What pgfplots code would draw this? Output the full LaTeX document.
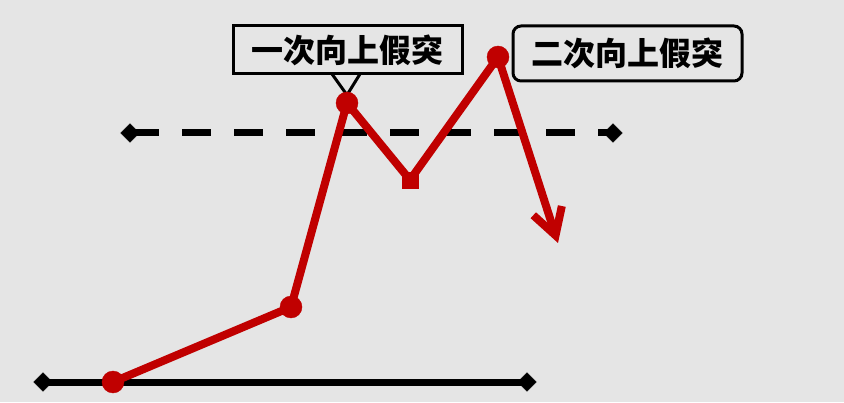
\documentclass[border=0pt]{standalone}
\usepackage{pgfplots}
\pgfplotsset{compat=1.18}
\usepackage{fontspec}
\newfontfamily\cjk{Noto Sans CJK SC}
\usetikzlibrary{arrows.meta}
\definecolor{bg}{RGB}{229,229,229}
\definecolor{myred}{RGB}{192,0,0}
\begin{document}
\begin{tikzpicture}
\begin{axis}[width=844pt,height=402pt,scale only axis,xmin=0,xmax=844,ymin=0,ymax=402,hide axis,clip=false]
\fill[bg] (axis cs:0,0) rectangle (axis cs:844,402);
\addplot[black,line width=7pt,mark=square*,mark options={rotate=45,solid,line width=0.5pt},mark size=6.5pt] coordinates {(43,20)(527,20)};
\addplot[black,line width=7pt,dash pattern=on 29pt off 23pt,mark=square*,mark options={rotate=45,solid,line width=0.5pt},mark size=6.5pt] coordinates {(130,269)(613,269)};
\addplot[myred,line width=8pt,line join=round] coordinates {(113,20)(291,95)(347,299)(410,222)(498,345)};
\addplot[myred,line width=8pt,line cap=round,-{Straight Barb[length=26pt,width=30pt,line width=8pt]}] coordinates {(498,345)(558,159)};
\addplot[only marks,mark=*,myred,mark size=11pt] coordinates {(113,20)(291,95)(347,299)(498,345)};
\addplot[only marks,mark=square*,myred,mark size=8pt] coordinates {(410,222)};
\draw[line width=3pt] (axis cs:233,328) rectangle (axis cs:462,376);
\draw[line width=3pt] (axis cs:332,328) -- (axis cs:347,307) -- (axis cs:360,328);
\node[font=\cjk\bfseries\fontsize{32}{32}\selectfont,inner sep=0pt] at (axis cs:347.5,352) {一次向上假突};
\draw[line width=3pt,rounded corners=8pt] (axis cs:513,321) rectangle (axis cs:742,376);
\node[font=\cjk\bfseries\fontsize{32}{32}\selectfont,inner sep=0pt] at (axis cs:627,349) {二次向上假突};
\end{axis}
\end{tikzpicture}
\end{document}
